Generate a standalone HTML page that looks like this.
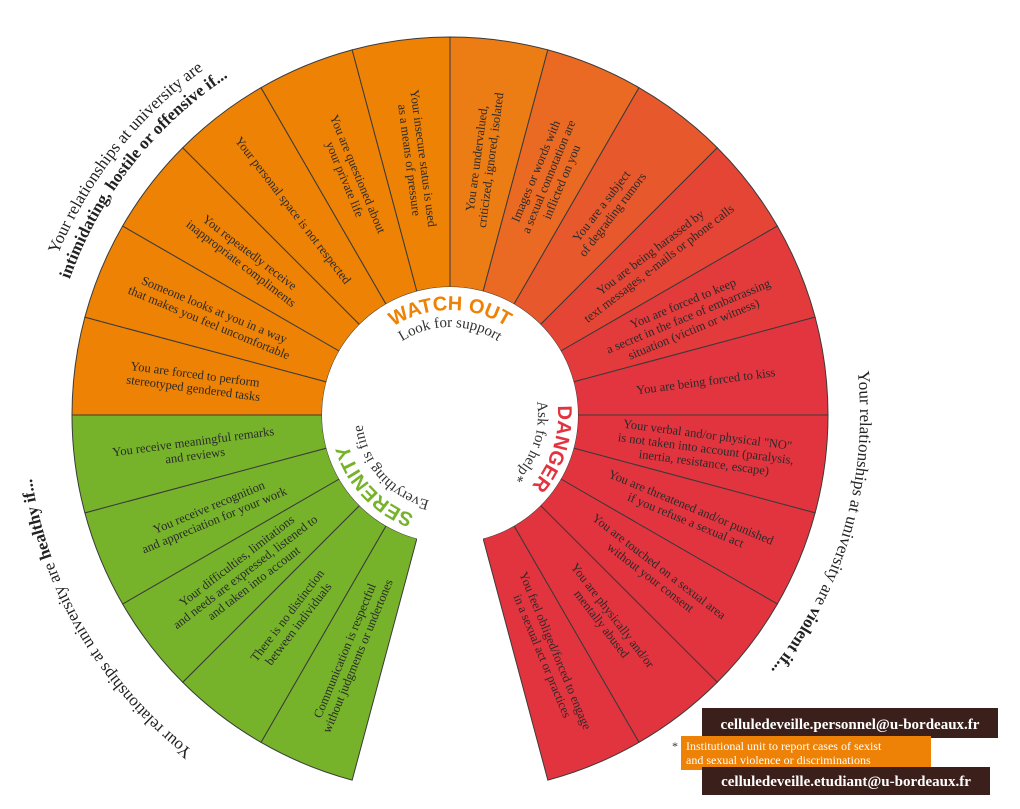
<!DOCTYPE html>
<html><head><meta charset="utf-8"><style>
html,body{margin:0;padding:0;background:#fff;}
svg{display:block;}
text{font-family:"Liberation Serif","DejaVu Serif",serif;}
.sans{font-family:"Liberation Sans","DejaVu Sans",sans-serif;}
</style></head><body>
<svg id="wheel" width="1020" height="809" viewBox="0 0 1020 809" xmlns="http://www.w3.org/2000/svg">
<defs>
<path id="arcWatch" d="M 345 415 A 105 105 0 0 1 555 415"/>
<path id="arcLook" d="M 362 415 A 88 88 0 0 1 538 415"/>
<path id="arcDanger" d="M 450 307 A 108 108 0 0 1 450 523"/>
<path id="arcAsk" d="M 450 327 A 88 88 0 0 1 450 503"/>
<path id="arcSeren" d="M 450 521 A 106 106 0 0 1 450 309"/>
<path id="arcFine" d="M 450 503 A 88 88 0 0 1 450 327"/>
<path id="arcTop1" d="M 30 470 A 425 425 0 0 1 450 -10"/>
<path id="arcTop2" d="M 50 470 A 405 405 0 0 1 450 10"/>
<path id="arcRight" d="M 450 5 A 410 410 0 0 1 450 825"/>
<path id="arcLeft" d="M 450 838 A 423 423 0 0 1 450 -8"/>
</defs>
<g id="segs"></g>
<g id="labels"></g>
<circle cx="450" cy="415" r="128" fill="#fff"/>
<rect x="417" y="480" width="66" height="329" fill="#fff"/>
<text class="sans" font-size="20" font-weight="bold" fill="#ee8206" text-anchor="middle"><textPath href="#arcWatch" startOffset="50%">WATCH OUT</textPath></text>
<text font-size="15" fill="#333" text-anchor="middle"><textPath href="#arcLook" startOffset="50%">Look for support</textPath></text>
<text class="sans" font-size="20" font-weight="bold" fill="#e2343f" text-anchor="middle"><textPath href="#arcDanger" startOffset="60%">DANGER</textPath></text>
<text font-size="15" fill="#333" text-anchor="middle"><textPath href="#arcAsk" startOffset="60%">Ask for help*</textPath></text>
<text class="sans" font-size="20" font-weight="bold" fill="#76b32a" text-anchor="middle"><textPath href="#arcSeren" startOffset="26%">SERENITY</textPath></text>
<text font-size="15" fill="#333" text-anchor="middle"><textPath href="#arcFine" startOffset="27%">Everything is fine</textPath></text>
<text font-size="17" fill="#222" text-anchor="middle"><textPath href="#arcTop1" startOffset="47%">Your relationships at university are</textPath></text>
<text font-size="17" font-weight="bold" fill="#222" text-anchor="middle"><textPath href="#arcTop2" startOffset="47%">intimidating, hostile or offensive if...</textPath></text>
<text font-size="17" fill="#222" text-anchor="middle"><textPath href="#arcRight" startOffset="59%">Your relationships at university are <tspan font-weight="bold">violent if...</tspan></textPath></text>
<text font-size="17" fill="#222" text-anchor="middle"><textPath href="#arcLeft" startOffset="33%">Your relationships at university are <tspan font-weight="bold">healthy if...</tspan></textPath></text>
<rect x="702" y="708" width="296" height="30" fill="#3b1f1a"/>
<text x="850" y="729" font-size="15" font-weight="bold" fill="#fff" text-anchor="middle">celluledeveille.personnel@u-bordeaux.fr</text>
<text x="672" y="750" font-size="12" fill="#333">*</text>
<rect x="681" y="736" width="250" height="34" fill="#ee8206"/>
<text x="686" y="750" font-size="12" fill="#fff">Institutional unit to report cases of sexist</text>
<text x="686" y="764" font-size="12" fill="#fff">and sexual violence or discriminations</text>
<rect x="702" y="767" width="288" height="28" fill="#3b1f1a"/>
<text x="846" y="786" font-size="15" font-weight="bold" fill="#fff" text-anchor="middle">celluledeveille.etudiant@u-bordeaux.fr</text>
</svg>
<script>
const CX = 450, CY = 415, RIN = 128, ROUT = 378;
const segStart = [180,195,210,225,240,255,270,285,300,315,330,345, 0,15,30,45,60, 105,120,135,150,165];
const segSpan = [15,15,15,15,15,15,15,15,15,15,15,15, 15,15,15,15,15, 15,15,15,15,15];
const segColors = ["#ed8204","#ed8204","#ed8204","#ed8204","#ed8204","#ed8204","#ec7c14","#ea6a24","#e7582d","#e54535","#e33a3c","#e2353f",
 "#e2343f","#e2343f","#e2343f","#e2343f","#e2343f",
 "#76b32a","#76b32a","#76b32a","#76b32a","#76b32a"];
const segNames = ["gendered-tasks","uncomfortable-looks","inappropriate-compliments","personal-space","private-life","insecure-status","undervalued","sexual-connotation","degrading-rumors","harassment","forced-secret","forced-kiss",
 "no-not-taken","threatened","touched","abused","forced-sexual-act",
 "communication-respectful","no-distinction","difficulties-heard","recognition","meaningful-remarks"];
const segTexts = [
 ["You are forced to perform","stereotyped gendered tasks"],
 ["Someone looks at you in a way","that makes you feel uncomfortable"],
 ["You repeatedly receive","inappropriate compliments"],
 ["Your personal space is not respected"],
 ["You are questioned about","your private life"],
 ["Your insecure status is used","as a means of pressure"],
 ["You are undervalued,","criticized, ignored, isolated"],
 ["Images or words with","a sexual connotation are","inflicted on you"],
 ["You are a subject","of degrading rumors"],
 ["You are being harassed by","text messages, e-mails or phone calls"],
 ["You are forced to keep","a secret in the face of embarrassing","situation (victim or witness)"],
 ["You are being forced to kiss"],
 ["Your verbal and/or physical \"NO\"","is not taken into account (paralysis,","inertia, resistance, escape)"],
 ["You are threatened and/or punished","if you refuse a sexual act"],
 ["You are touched on a sexual area","without your consent"],
 ["You are physically and/or","mentally abused"],
 ["You feel obliged/forced to engage","in a sexual act or practices"],
 ["Communication is respectful","without judgments or undertones"],
 ["There is no distinction","between individuals"],
 ["Your difficulties, limitations","and needs are expressed, listened to","and taken into account"],
 ["You receive recognition","and appreciation for your work"],
 ["You receive meaningful remarks","and reviews"]
];
const NS = "http://www.w3.org/2000/svg";
function pt(r, a){ const t = a*Math.PI/180; return [CX + r*Math.cos(t), CY + r*Math.sin(t)]; }
const segG = document.getElementById('segs');
const labG = document.getElementById('labels');
segStart.forEach((a0, i) => {
  const a1 = a0 + segSpan[i];
  const p1 = pt(ROUT, a0), p2 = pt(ROUT, a1), p3 = pt(RIN, a1), p4 = pt(RIN, a0);
  const path = document.createElementNS(NS, 'path');
  path.setAttribute('d', `M${p1[0]},${p1[1]} A${ROUT},${ROUT} 0 0 1 ${p2[0]},${p2[1]} L${p3[0]},${p3[1]} A${RIN},${RIN} 0 0 0 ${p4[0]},${p4[1]} Z`);
  path.setAttribute('fill', segColors[i]);
  path.setAttribute('stroke', '#3a3a3a');
  path.setAttribute('stroke-width', '1');
  
  
  segG.appendChild(path);
  const mid = a0 + segSpan[i]/2;
  let m = ((mid % 360) + 360) % 360;
  const rot = (m > 90 && m < 270) ? m - 180 : m;
  const c = pt(258, mid);
  const txt = document.createElementNS(NS, 'text');
  txt.setAttribute('transform', `translate(${c[0]},${c[1]}) rotate(${rot})`);
  txt.setAttribute('text-anchor', 'middle');
  txt.setAttribute('font-size', '12.5');
  txt.setAttribute('fill', '#2a2a2a');
  
  
  const lines = segTexts[i];
  const lh = 14;
  lines.forEach((ln, k) => {
    const ts = document.createElementNS(NS, 'tspan');
    ts.setAttribute('x', '0');
    ts.setAttribute('y', String((k - (lines.length-1)/2)*lh + 4));
    ts.textContent = ln;
    txt.appendChild(ts);
  });
  labG.appendChild(txt);
});
</script>
</body></html>
